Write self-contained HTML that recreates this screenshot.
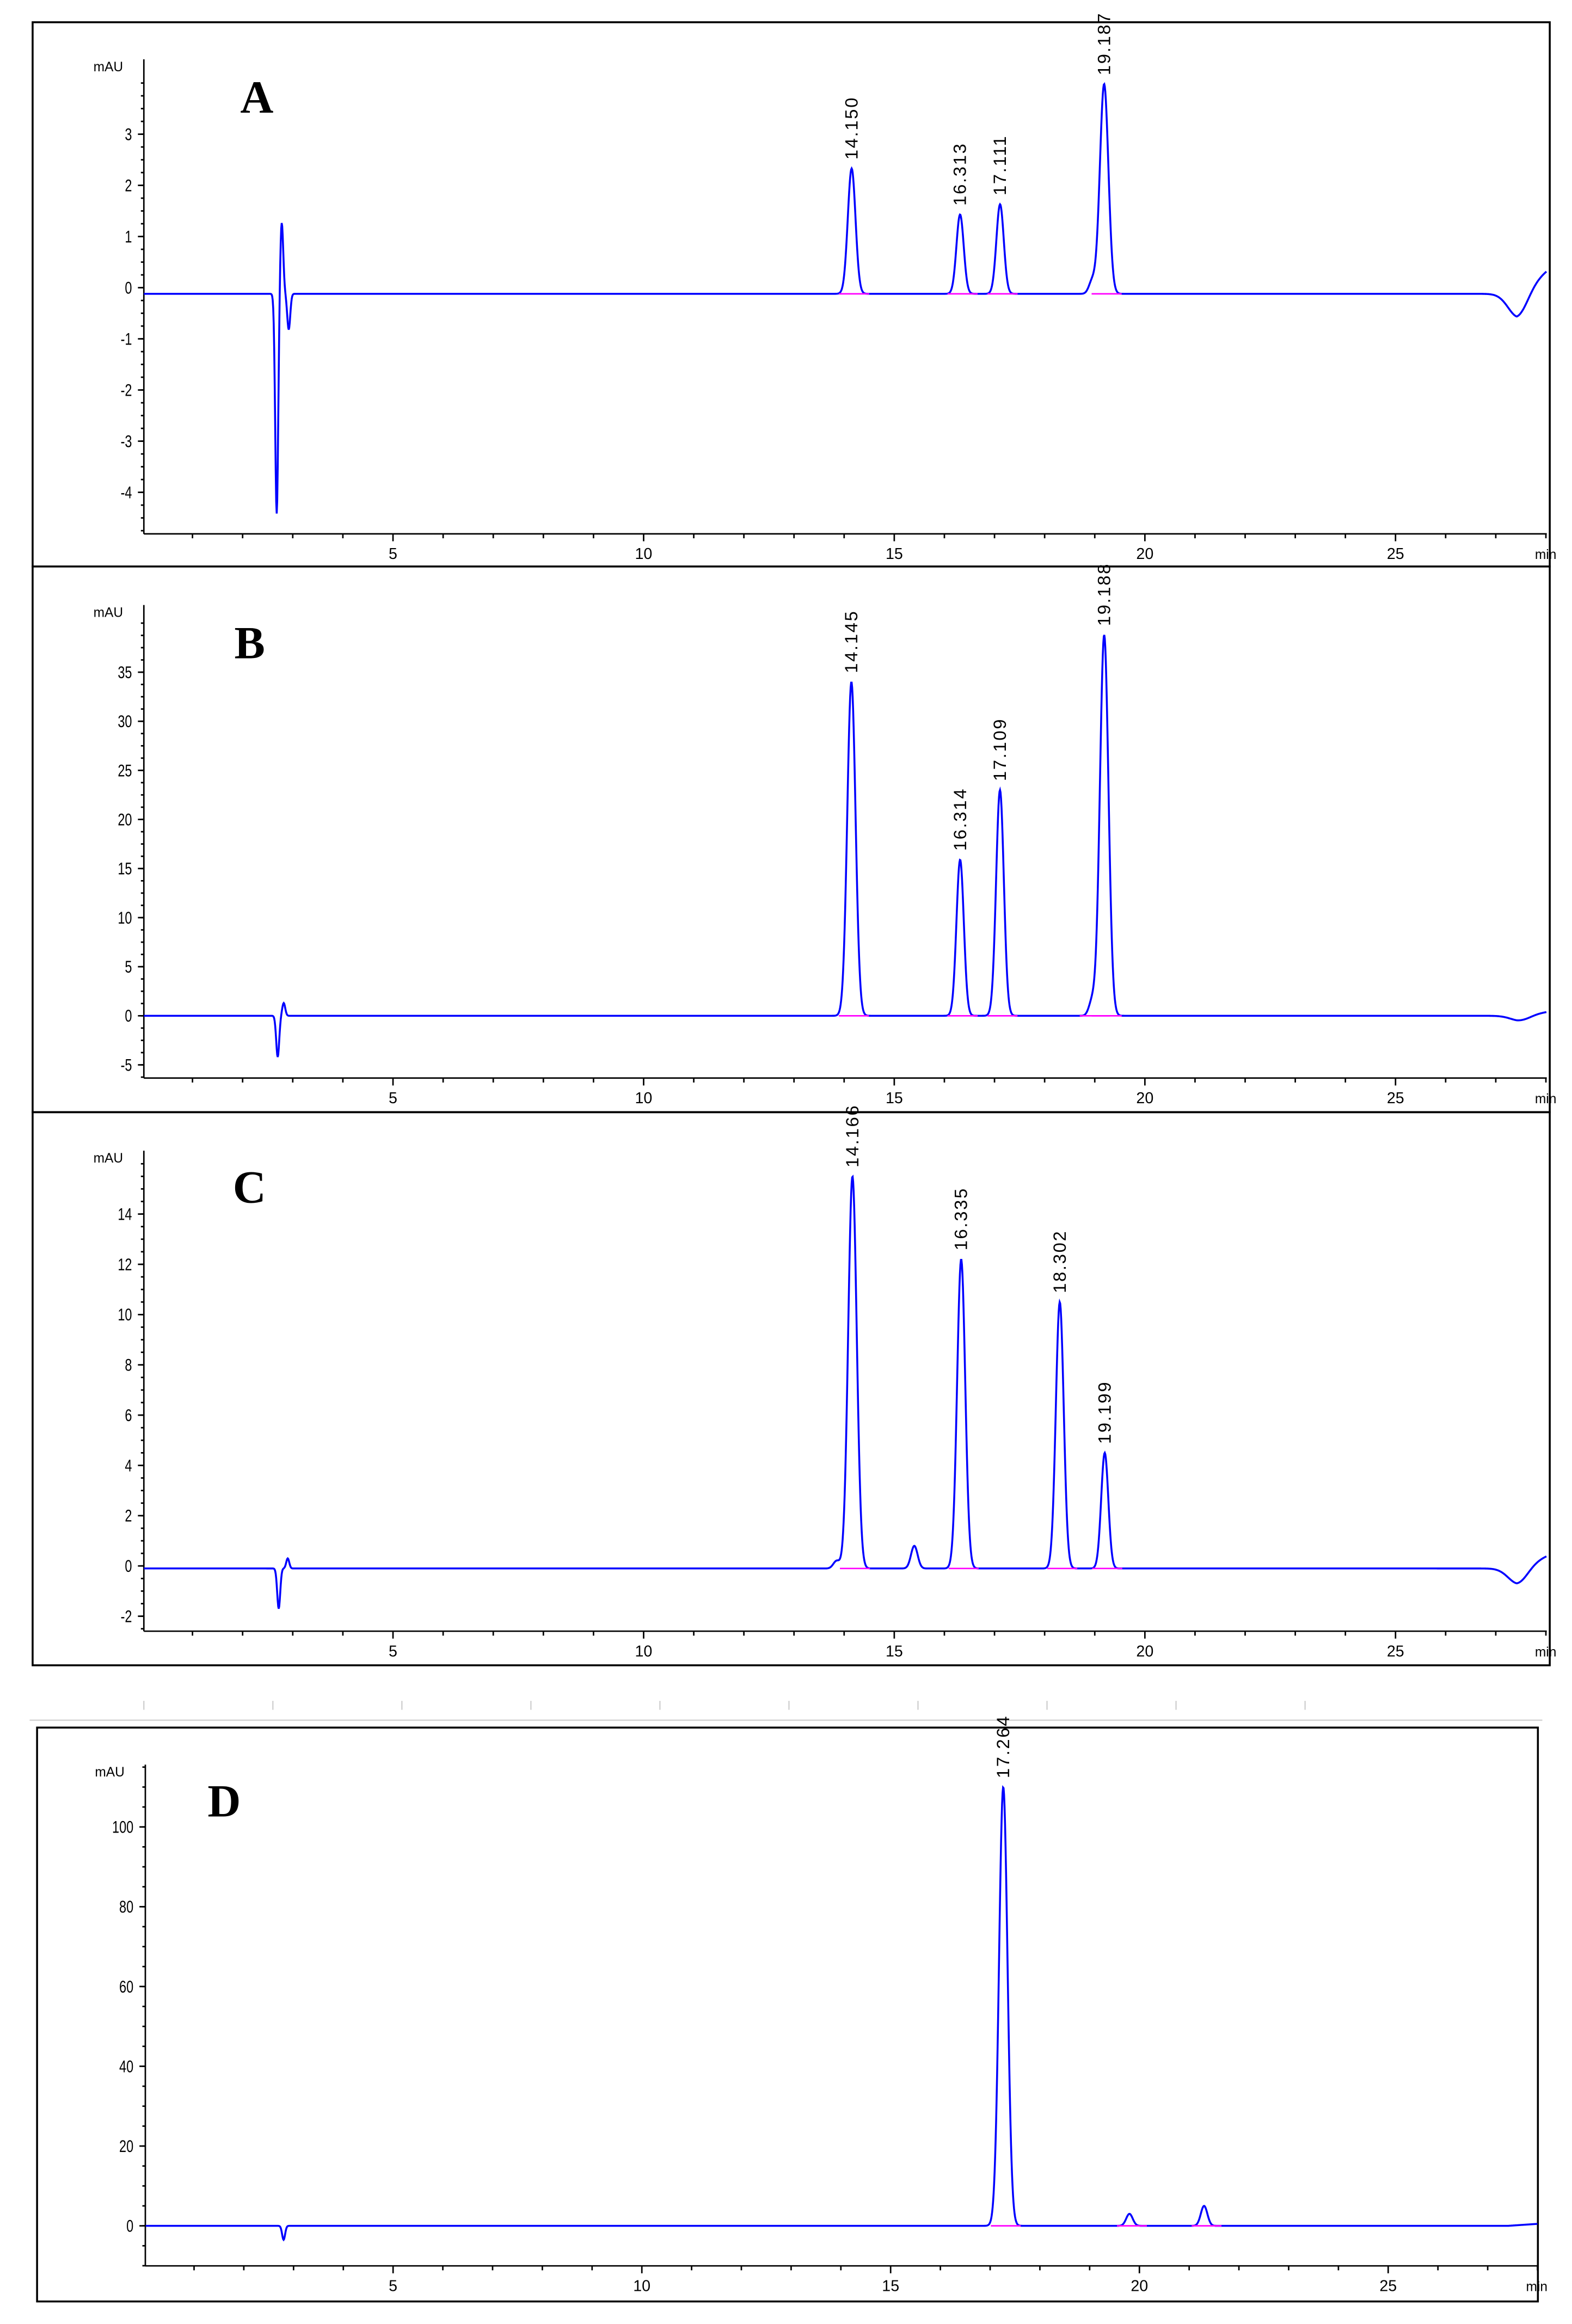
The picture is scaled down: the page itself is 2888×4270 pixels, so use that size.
<!DOCTYPE html>
<html><head><meta charset="utf-8"><style>
html,body{margin:0;padding:0;background:#fff;}
svg{display:block;}
</style></head><body>
<svg id="fig" width="2888" height="4270" viewBox="0 0 1060 1567.2" preserveAspectRatio="none" xmlns="http://www.w3.org/2000/svg"></svg>
<script>
// ---- data ----
const panelLetters = ["A","B","C","D"];
const yTicksA = [-4,-3,-2,-1,0,1,2,3];
const yTicksB = [-5,0,5,10,15,20,25,30,35];
const yTicksC = [-2,0,2,4,6,8,10,12,14];
const yTicksD = [0,20,40,60,80,100];
const xTicks = [5,10,15,20,25];
// peaks: retention time, height
const peakTimesA = [14.15,16.313,17.111,19.187,18.95];
const peakHeightsA = [2.45,1.55,1.75,4.1,0.25];
const peakLabelsA = ["14.150","16.313","17.111","19.187",""];
const peakTimesB = [14.145,16.314,17.109,19.188,18.95];
const peakHeightsB = [34,15.9,23,38.8,1.5];
const peakLabelsB = ["14.145","16.314","17.109","19.188",""];
const peakTimesC = [14.166,15.4,16.335,18.302,19.199,13.85];
const peakHeightsC = [15.6,0.9,12.3,10.6,4.6,0.3];
const peakLabelsC = ["14.166","","16.335","18.302","19.199",""];
const peakTimesD = [17.264,19.8,21.3];
const peakHeightsD = [110,3,5];
const peakLabelsD = ["17.264","",""];
// injection disturbance near 2.8 min: time, height
const injTimesA = [2.68,2.78,2.92];
const injHeightsA = [-4.3,1.4,-0.7];
const injTimesB = [2.7,2.82];
const injHeightsB = [-4.2,1.3];
const injTimesC = [2.72,2.9];
const injHeightsC = [-1.6,0.4];
const injTimesD = [2.8];
const injHeightsD = [-3.5];
// late baseline dip: time, height
const dipTimesA = [27.45]; const dipHeightsA = [-0.45];
const dipTimesB = [27.5]; const dipHeightsB = [-0.5];
const dipTimesC = [27.45]; const dipHeightsC = [-0.6];
const baseA=-0.12, baseB=0, baseC=-0.1, baseD=0;

// ---- layout ----
const panels = [
 {L:"A",fx:22,fy:15,fw:1023,fh:367,ax:97,ar:1043,at:40,ab:360,x0:96,pm:33.8,y0:194,pu:34.5,yt:yTicksA,pt:peakTimesA,ph:peakHeightsA,pl:peakLabelsA,it:injTimesA,ih:injHeightsA,dt:dipTimesA,dh:dipHeightsA,base:baseA,lx:162,ly:76,endRise:0.45},
 {L:"B",fx:22,fy:382,fw:1023,fh:368,ax:97,ar:1043,at:408,ab:727,x0:96,pm:33.8,y0:685,pu:6.62,yt:yTicksB,pt:peakTimesB,ph:peakHeightsB,pl:peakLabelsB,it:injTimesB,ih:injHeightsB,dt:dipTimesB,dh:dipHeightsB,base:baseB,lx:158,ly:444,endRise:0.4},
 {L:"C",fx:22,fy:750,fw:1023,fh:373,ax:97,ar:1043,at:776,ab:1100,x0:96,pm:33.8,y0:1056,pu:16.95,yt:yTicksC,pt:peakTimesC,ph:peakHeightsC,pl:peakLabelsC,it:injTimesC,ih:injHeightsC,dt:dipTimesC,dh:dipHeightsC,base:baseC,lx:157,ly:811,endRise:0.5},
 {L:"D",fx:25,fy:1165,fw:1012,fh:387,ax:98,ar:1037,at:1190,ab:1528,x0:97.3,pm:33.55,y0:1501,pu:2.69,yt:yTicksD,pt:peakTimesD,ph:peakHeightsD,pl:peakLabelsD,it:injTimesD,ih:injHeightsD,dt:[],dh:[],base:baseD,lx:140,ly:1225,endRise:0.5}
];
const NS="http://www.w3.org/2000/svg";
const svg=document.getElementById('fig');
const SANS='font-family:"Liberation Sans",sans-serif';
const SERIF='font-family:"Liberation Serif",serif';
function mk(tag,attrs,parent){const e=document.createElementNS(NS,tag);for(const k in attrs)e.setAttribute(k,attrs[k]);(parent||svg).appendChild(e);return e;}

const guides=mk('g',{stroke:'#ccc','stroke-width':0.8});


for(let i=0;i<10;i++){mk('line',{x1:97+i*87,y1:1147,x2:97+i*87,y2:1153},guides);}
mk('line',{x1:20,y1:1160,x2:1040,y2:1160},guides);

panels.forEach((p,pi)=>{
 const g=mk('g',{});
 
 
 const X=t=>p.x0+p.pm*t, Y=v=>p.y0-p.pu*v;
 const fr=mk('rect',{x:p.fx,y:p.fy,width:p.fw,height:p.fh,fill:'none',stroke:'#000','stroke-width':1.3},g);
 
 
 const ax=mk('g',{stroke:'#000','stroke-width':1},g);
 
 
 mk('line',{x1:p.ax,y1:p.at,x2:p.ax,y2:p.ab},ax);
 mk('line',{x1:p.ax,y1:p.ab,x2:p.ar,y2:p.ab},ax);
 for(let t=1;t<=28;t++){const x=X(t);if(x>p.ar)break;mk('line',{x1:x,y1:p.ab,x2:x,y2:p.ab+(t%5==0?5:3)},ax);}
 const step=p.yt[1]-p.yt[0];
 for(let v=p.yt[0]-step;v<=p.yt[p.yt.length-1]+step*1.2;v+=step/4){const y=Y(v);if(y<p.at||y>p.ab)continue;mk('line',{x1:p.ax-2,y1:y,x2:p.ax,y2:y},ax);}
 p.yt.forEach(v=>{const y=Y(v);mk('line',{x1:p.ax-4,y1:y,x2:p.ax,y2:y},ax);
  const t=mk('text',{x:p.ax-8,y:y+4,'font-size':11.5,'text-anchor':'end',style:SANS,transform:`translate(${p.ax-8},0) scale(0.75,1) translate(${-(p.ax-8)},0)`},g);t.textContent=v;
  
  });
 xTicks.forEach(v=>{const t=mk('text',{x:X(v),y:p.ab+17,'font-size':10.5,'text-anchor':'middle',style:SANS},g);t.textContent=v;
  
  });
 const mn=mk('text',{x:p.ar-8,y:p.ab+17,'font-size':9,style:SANS},g);mn.textContent='min';
 
 
 const mau=mk('text',{x:p.ax-34,y:p.at+8,'font-size':9,style:SANS},g);mau.textContent='mAU';
 
 
 const let_=mk('text',{x:p.lx,y:p.ly,'font-size':31,style:SERIF+';font-weight:bold'},g);let_.textContent=p.L;
 
 
 const tEnd=(p.ar-p.x0)/p.pm;
 let d='';
 for(let t=0.0;t<=tEnd;t+=0.01){
  let v=p.base;
  p.pt.forEach((c,i)=>{const s=0.065+0.002*p.ph[i]/Math.max(...p.ph)*10;v+=p.ph[i]*Math.exp(-0.5*((t-c)/s)**2);});
  p.it.forEach((c,i)=>{v+=p.ih[i]*Math.exp(-0.5*((t-c)/0.03)**2);});
  p.dt.forEach((c,i)=>{v+=p.dh[i]*Math.exp(-0.5*((t-c)/0.2)**2);});
  if(t>tEnd-0.6) v+=p.endRise*Math.max(0,(t-(tEnd-0.6))/0.6);
  const x=X(t);if(x<p.ax)continue;
  d+=(d?'L':'M')+x.toFixed(2)+' '+Y(v).toFixed(2);
 }
 const tr=mk('path',{d:d,fill:'none',stroke:'#0000ff','stroke-width':1.3},g);
 
 
 p.pt.forEach((c,i)=>{
  if(p.ph[i]<1&&!p.pl[i])return;
  const bl=mk('line',{x1:X(c-0.25),y1:Y(p.base),x2:X(c+0.35),y2:Y(p.base),stroke:'#ff00ff','stroke-width':1},g);
  
  
  if(p.pl[i]){
   const x=X(c)+4,y=Y(p.base+p.ph[i])-6;
   const lb=mk('text',{x:x,y:y,'font-size':12,'letter-spacing':1,style:SANS,transform:`rotate(-90 ${x} ${y})`},g);lb.textContent=p.pl[i];
   
   
  }
 });
});
</script>
</body></html>
